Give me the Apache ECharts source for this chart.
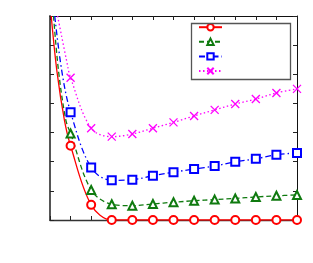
<!DOCTYPE html>
<html>
<head>
<meta charset="utf-8">
<script src="https://cdn.jsdelivr.net/npm/echarts@6/dist/echarts.min.js"></script>
<style>html,body{margin:0;padding:0;background:#fff;}#c{width:313px;height:263px;}</style>
</head>
<body>
<div id="c"></div>
<script>
// marker positions
const xMarks = [1,2,3,4,5,6,7,8,9,10,11,12];
const redVals = [2.55,0.52,0,0,0,0,0,0,0,0,0,0];
const greenVals = [2.97,1.03,0.54,0.49,0.55,0.61,0.66,0.70,0.74,0.79,0.83,0.86];
const blueVals = [3.70,1.80,1.36,1.38,1.52,1.64,1.75,1.85,2.00,2.10,2.24,2.30];
const magentaVals = [4.88,3.15,2.86,2.95,3.15,3.35,3.57,3.78,3.98,4.15,4.36,4.50];
// curve points read left of the first marker (no marker drawn)
const redLead = [[0.06,7],[0.34,5.08],[0.70,3.43]];
const greenLead = [[0.17,7],[0.42,5.08],[0.77,3.43]];
const blueLead = [[0.23,7],[0.58,5.08]];
const magentaLead = [[0.37,7],[0.80,5.49]];

function build(lead, vals){
  const d = lead.map(p => ({value:p, symbol:'none'}));
  xMarks.forEach((x,i)=> d.push({value:[x, vals[i]]}));
  return d;
}
function mk(name, lead, vals, color, sym, ltype){
  return {
    name, type:'line', data: build(lead, vals), smooth:0.35,
    xAxisIndex:0, yAxisIndex:0, clip:true,
    symbol: sym, symbolSize: 8, showAllSymbol:true,
    lineStyle:{color, width:1.3, type:ltype},
    itemStyle:{color: color, borderColor:color, borderWidth:1.3},
    emphasis:{disabled:true}
  };
}
const chart = echarts.init(document.getElementById('c'), null, {renderer:'canvas'});
const axX = (pos, lineColor, w) => ({type:'value', position:pos, min:0, max:12, interval:1,
  axisLine:{show:true, onZero:false, lineStyle:{color:lineColor, width:w}},
  axisTick:{show:true, inside:true, length:4, lineStyle:{color:'#222'}},
  axisLabel:{show:false}, splitLine:{show:false}});
const axY = (pos, lineColor, w) => ({type:'value', position:pos, min:0, max:7, interval:1,
  axisLine:{show:true, onZero:false, lineStyle:{color:lineColor, width:w}},
  axisTick:{show:true, inside:true, length:4, lineStyle:{color:'#222'}},
  axisLabel:{show:false}, splitLine:{show:false}});
chart.setOption({
  animation:false,
  grid:{left:50, right:16, top:16, bottom:43, containLabel:false},
  xAxis:[axX('bottom','#333',1.3), axX('top','#111',1)],
  yAxis:[axY('left','#555',2), axY('right','#111',1)],
  legend:{orient:'vertical', left:198, top:23, itemWidth:23, itemHeight:8, itemGap:6.2,
    padding:0, formatter:()=>'', selectedMode:false, textStyle:{fontSize:1}},
  graphic:[{type:'rect', left:189, top:21, shape:{width:99, height:56},
    style:{fill:'none', stroke:'#555', lineWidth:1.3}, z:10}],
  series:[
    mk('s1', redLead, redVals, '#ff0000', 'emptyCircle', 'solid'),
    mk('s2', greenLead, greenVals, '#0f7a0f', 'emptyTriangle', [5,3]),
    mk('s3', blueLead, blueVals, '#0000ff', 'emptyRect', [6,3,1.5,3]),
    mk('s4', magentaLead, magentaVals, '#ff00ff', 'path://M0,0L10,10M10,0L0,10', [1.5,2.5])
  ]
});
</script>
</body>
</html>
